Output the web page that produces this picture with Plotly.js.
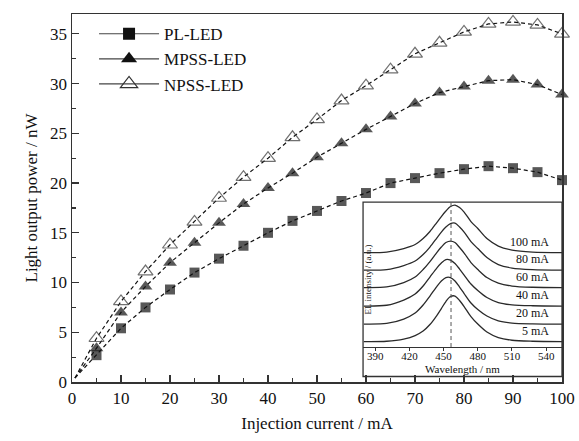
<!DOCTYPE html>
<html>
<head>
<meta charset="utf-8">
<script src="https://cdn.plot.ly/plotly-3.0.1.min.js"></script>
<style>html,body{margin:0;padding:0;background:#fff;}#chart{width:579px;height:441px;}</style>
</head>
<body>
<div id="chart"></div>
<script>
// Main chart data: injection current (mA) vs light output power (nW)
const current = [0.6, 5, 10, 15, 20, 25, 30, 35, 40, 45, 50, 55, 60, 65, 70, 75, 80, 85, 90, 95, 100];
const plLED   = [0.4, 2.7, 5.4, 7.5, 9.3, 11.0, 12.4, 13.7, 15.0, 16.2, 17.2, 18.2, 19.0, 20.0, 20.5, 21.0, 21.4, 21.7, 21.5, 21.1, 20.3];
const mpssLED = [0.4, 3.4, 7.0, 9.6, 12.0, 14.0, 16.0, 17.9, 19.5, 21.0, 22.6, 24.0, 25.4, 26.7, 28.0, 29.1, 29.7, 30.3, 30.4, 29.9, 28.9];
const npssLED = [0.4, 4.4, 8.1, 11.1, 13.8, 16.1, 18.5, 20.6, 22.5, 24.6, 26.4, 28.3, 29.8, 31.4, 33.0, 34.1, 35.2, 36.0, 36.2, 35.9, 35.0];
const seriesNames = ["PL-LED", "MPSS-LED", "NPSS-LED"];

// Inset: EL spectra (wavelength nm vs intensity, curves stacked, a.u.)
const wavelength = [380, 400, 415, 425, 432, 438, 444, 448, 452, 456, 460, 464, 468, 474, 480, 488, 498, 510, 528, 554];
const el5   = [5.5, 5.8, 8, 11.5, 16, 22.5, 31.5, 38.5, 45.5, 50.5, 51, 46.5, 40.5, 30.5, 23, 15, 9.5, 6.8, 5.8, 5.5];
const el20  = [23, 23.6, 28, 34, 42, 51, 60.5, 66, 69.5, 69.5, 66, 60, 53.5, 44, 37.5, 31, 26.2, 24, 23.2, 23];
const el40  = [41, 41.8, 47, 53, 61, 70, 79, 84, 87.5, 87, 83.5, 78, 72, 63, 56.5, 49.5, 44.5, 42.2, 41.3, 41];
const el60  = [59.5, 60.1, 64.5, 70, 77.5, 85.5, 94.5, 100, 104.5, 106, 104.5, 99.5, 94, 84.5, 77.5, 69.5, 64, 61, 59.8, 59.5];
const el80  = [77, 77.5, 81.5, 86, 92.5, 100, 109, 115, 120, 123.5, 124, 120, 115, 105.5, 98.5, 89.5, 82.5, 79, 77.5, 77];
const el100 = [94.5, 95, 98.5, 102.5, 108.5, 115.5, 124.5, 130.5, 136, 140.5, 142, 139.5, 135, 125.5, 118.5, 108.5, 101, 97, 95, 94.5];
const elSeries = [el5, el20, el40, el60, el80, el100];
const elLabels = ["5 mA", "20 mA", "40 mA", "60 mA", "80 mA", "100 mA"];
const elBaselines = [5.5, 23, 41, 59.5, 77, 94.5];
const peakWavelength = 456.5;
const insetTicks = [390, 420, 450, 480, 510, 540];

const serif = "Liberation Serif, Times New Roman, serif";
const ink = "#111";

const markerSizes = current.map((c, i) => i === 0 ? 0 : 1);
function sizes(s) { return markerSizes.map(m => m * s); }

const styles = [
  {symbol: "square", size: 10, color: ink},
  {symbol: "triangle-up", size: 12, color: ink},
  {symbol: "triangle-up-open", size: 13, color: "#333"}
];
const mainData = [plLED, mpssLED, npssLED];

const traces = [];
mainData.forEach((ys, k) => {
  traces.push({
    x: current, y: ys, type: "scatter", mode: "lines+markers",
    name: seriesNames[k], showlegend: false,
    line: {color: ink, width: 1.2, dash: "4px,3px"},
    marker: {symbol: styles[k].symbol, size: sizes(styles[k].size), color: styles[k].color,
             line: {color: styles[k].color, width: k === 2 ? 1.2 : 0}},
    xaxis: "x", yaxis: "y", cliponaxis: false
  });
});
// legend entries (solid line through marker)
mainData.forEach((ys, k) => {
  traces.push({
    x: [null], y: [null], type: "scatter", mode: "lines+markers",
    name: seriesNames[k], legendgroup: "g" + k, showlegend: true,
    line: {color: "#444", width: 1.2},
    marker: {symbol: styles[k].symbol, size: styles[k].size + 2, color: styles[k].color,
             line: {color: styles[k].color, width: k === 2 ? 1.2 : 0}},
    xaxis: "x", yaxis: "y"
  });
});
elSeries.forEach((ys, k) => {
  traces.push({
    x: wavelength, y: ys, type: "scatter", mode: "lines",
    line: {color: "#2a2a2a", width: 1.3, shape: "spline", smoothing: 0.8},
    showlegend: false, xaxis: "x2", yaxis: "y2", hoverinfo: "skip"
  });
});

const annotations = elLabels.map((t, k) => ({
  text: t, x: 544, y: elBaselines[k] + 11, xref: "x2", yref: "y2",
  xanchor: "right", yanchor: "middle", showarrow: false,
  font: {family: serif, size: 12, color: ink}
}));
annotations.push({
  text: "EL intensity / (a.u.)", textangle: -90, x: 0.605, y: 0.28, xref: "paper", yref: "paper",
  xanchor: "center", yanchor: "middle", showarrow: false,
  font: {family: serif, size: 9, color: ink}
});
annotations.push({
  text: "Wavelength / nm", x: 0.797, y: 0.034, xref: "paper", yref: "paper",
  xanchor: "center", yanchor: "middle", showarrow: false,
  font: {family: serif, size: 11, color: ink}
});

const layout = {
  width: 579, height: 441,
  margin: {l: 72, r: 17, t: 14, b: 59},
  paper_bgcolor: "#fff", plot_bgcolor: "rgba(0,0,0,0)",
  font: {family: serif, color: ink, size: 17},
  showlegend: true,
  legend: {
    x: 0.045, y: 0.994, xanchor: "left", yanchor: "top",
    bgcolor: "rgba(0,0,0,0)", borderwidth: 0,
    font: {family: serif, size: 17, color: ink},
    itemwidth: 60, tracegroupgap: 7, traceorder: "normal"
  },
  xaxis: {
    domain: [0, 1], range: [0, 100], dtick: 10, tick0: 0,
    ticks: "inside", ticklen: 7, tickwidth: 1.2, tickcolor: "#333",
    minor: {dtick: 5, ticks: "inside", ticklen: 4, tickcolor: "#333", tickwidth: 1.2},
    showline: true, linecolor: "#333", linewidth: 1.5, mirror: true,
    showgrid: false, zeroline: false,
    tickfont: {family: serif, size: 17, color: ink},
    title: {text: "Injection current / mA", font: {family: serif, size: 17, color: ink}, standoff: 10}
  },
  yaxis: {
    domain: [0, 1], range: [0, 37], dtick: 5, tick0: 0,
    ticks: "inside", ticklen: 7, tickwidth: 1.2, tickcolor: "#333",
    minor: {dtick: 2.5, ticks: "inside", ticklen: 4, tickcolor: "#333", tickwidth: 1.2},
    showline: true, linecolor: "#333", linewidth: 1.5, mirror: true,
    showgrid: false, zeroline: false,
    tickfont: {family: serif, size: 17, color: ink},
    title: {text: "Light output power / nW", font: {family: serif, size: 17, color: ink}, standoff: 8}
  },
  xaxis2: {
    domain: [0.594, 1.0], anchor: "y2", range: [379.3, 553.9],
    tickvals: insetTicks, ticks: "outside", ticklen: 3, tickcolor: "#333",
    ticklabelstandoff: -4,
    showline: true, linecolor: "#333", linewidth: 1.2,
    showgrid: false, zeroline: false,
    tickfont: {family: serif, size: 11, color: ink}
  },
  yaxis2: {
    domain: [0.095, 0.489], anchor: "x2", range: [0, 145],
    showticklabels: false, ticks: "", showline: false, showgrid: false, zeroline: false
  },
  shapes: [
    {type: "rect", xref: "paper", yref: "paper", x0: 0.594, x1: 1.0, y0: 0.015, y1: 0.489,
     line: {color: "#333", width: 1.3}, fillcolor: "rgba(0,0,0,0)", layer: "above"},
    {type: "line", xref: "x2", yref: "y2", x0: peakWavelength, x1: peakWavelength, y0: 0, y1: 145,
     line: {color: "#555", width: 1, dash: "4px,3px"}}
  ],
  annotations: annotations
};

Plotly.newPlot("chart", traces, layout, {staticPlot: true, displayModeBar: false});
</script>
</body>
</html>
